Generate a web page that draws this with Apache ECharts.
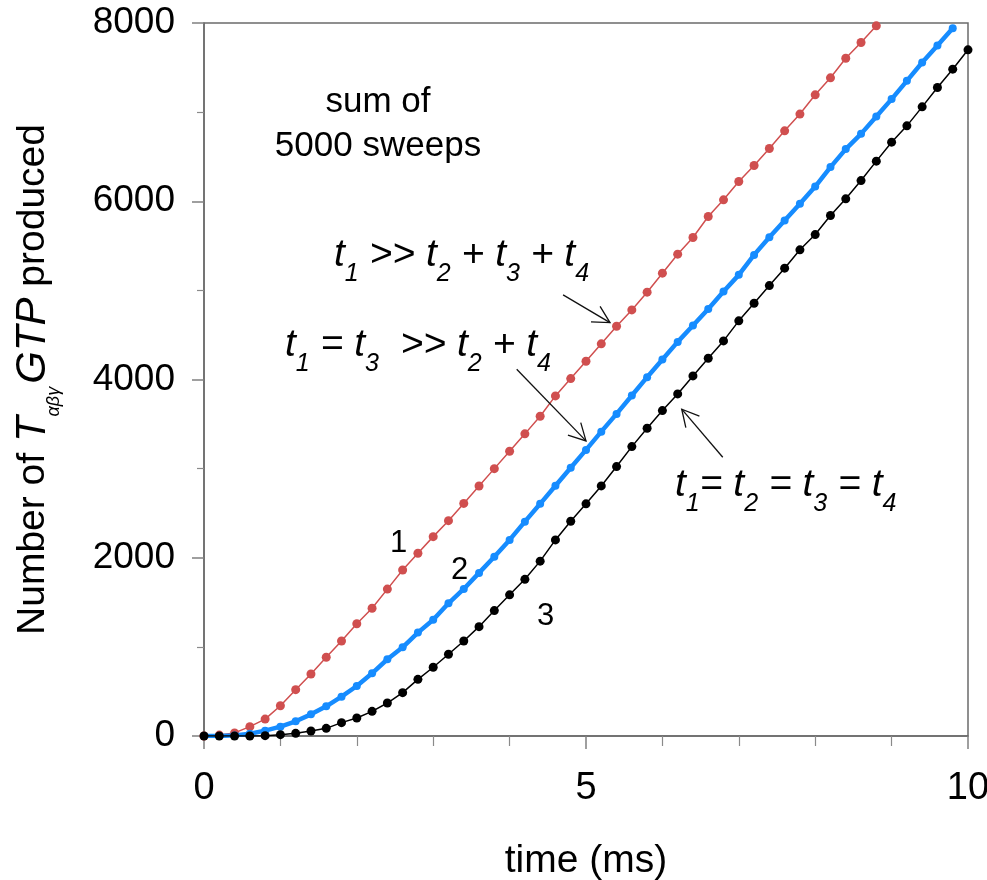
<!DOCTYPE html>
<html>
<head>
<meta charset="utf-8">
<script src="https://cdn.jsdelivr.net/npm/echarts@6/dist/echarts.min.js"></script>
<style>
  html, body { margin: 0; padding: 0; background: #ffffff; }
  #chart { width: 987px; height: 880px; }
</style>
</head>
<body>
<div id="chart"></div>
<script>
// Sampling times (ms)
const timeMs = [
  0, 0.2, 0.4, 0.6, 0.8, 1.0, 1.2, 1.4, 1.6, 1.8,
  2.0, 2.2, 2.4, 2.6, 2.8, 3.0, 3.2, 3.4, 3.6, 3.8,
  4.0, 4.2, 4.4, 4.6, 4.8, 5.0, 5.2, 5.4, 5.6, 5.8,
  6.0, 6.2, 6.4, 6.6, 6.8, 7.0, 7.2, 7.4, 7.6, 7.8,
  8.0, 8.2, 8.4, 8.6, 8.8, 9.0, 9.2, 9.4, 9.6, 9.8, 10.0
];

// Curve 1: t1 >> t2 + t3 + t4
const curve1 = [
  0, 10, 35, 105, 190, 340, 520, 696, 883, 1066,
  1260, 1433, 1648, 1862, 2050, 2237, 2416, 2610, 2805, 3000,
  3195, 3390, 3588, 3816, 4010, 4205, 4400, 4598, 4781, 4980,
  5193, 5406, 5593, 5829, 6016, 6221, 6401, 6592, 6790, 6978,
  7194, 7385, 7605, 7781, 7968
];

// Curve 2: t1 = t3 >> t2 + t4
const curve2 = [
  0, 0, 7, 26, 60, 105, 165, 243, 333, 441,
  561, 703, 861, 995, 1160, 1305, 1489, 1650, 1830, 2012,
  2200, 2405, 2605, 2808, 3010, 3210, 3415, 3614, 3820, 4026,
  4225, 4422, 4605, 4792, 4987, 5174, 5398, 5597, 5783, 5971,
  6165, 6383, 6585, 6756, 6951, 7146, 7351, 7557, 7748, 7942
];

// Curve 3: t1 = t2 = t3 = t4
const curve3 = [
  0, 0, 0, 0, 4, 15, 30, 56, 86, 150,
  202, 277, 370, 486, 636, 771, 917, 1066, 1227, 1407,
  1584, 1758, 1962, 2200, 2410, 2605, 2806, 3023, 3247, 3453,
  3651, 3838, 4040, 4239, 4433, 4658, 4856, 5054, 5249, 5455,
  5626, 5840, 6027, 6232, 6450, 6663, 6846, 7059, 7276, 7482, 7699
];

const xTickValues = [0, 5, 10];
const yTickValues = [0, 2000, 4000, 6000, 8000];

const FONT = 'Liberation Sans, Arial, Helvetica, sans-serif';
const RED = '#d04f4f';
const BLUE = '#168cff';
const BLACK = '#000000';
const FRAME = '#6b6b6b';

function pairs(values) {
  return values.map((v, i) => [timeMs[i], v]);
}

const chart = echarts.init(document.getElementById('chart'), null, { renderer: 'canvas' });

chart.setOption({
  animation: false,
  backgroundColor: '#ffffff',
  grid: {
    left: 204, right: 19, top: 23, bottom: 144,
    containLabel: false, outerBoundsMode: 'none',
    show: true, borderColor: FRAME, borderWidth: 1.5, backgroundColor: 'transparent'
  },
  xAxis: {
    type: 'value', min: 0, max: 10, interval: 5,
    name: 'time (ms)', nameLocation: 'middle', nameGap: 106,
    nameTextStyle: { fontFamily: FONT, fontSize: 39, color: '#000' },
    axisLine: { show: true, lineStyle: { color: FRAME, width: 1.5 } },
    axisTick: { show: true, inside: false, length: 13, lineStyle: { color: '#808080', width: 1.5 } },
    minorTick: { show: true, splitNumber: 5, length: 10, lineStyle: { color: '#8a8a8a', width: 1.2 } },
    splitLine: { show: false },
    axisLabel: {
      fontFamily: FONT, fontSize: 38, color: '#000', margin: 34,
      formatter: v => (xTickValues.indexOf(v) >= 0 ? String(v) : '')
    }
  },
  yAxis: {
    type: 'value', min: 0, max: 8000, interval: 2000,
    name: '{n|Number of }{i|T}{sub|αβγ}{i|GTP}{n| produced}',
    nameLocation: 'middle', nameRotate: 90, nameGap: 148,
    nameTextStyle: {
      fontFamily: FONT, fontSize: 39, color: '#000',
      rich: {
        n: { fontFamily: FONT, fontSize: 39, color: '#000', lineHeight: 46 },
        i: { fontFamily: FONT, fontSize: 42, fontStyle: 'italic', color: '#000', lineHeight: 46 },
        sub: { fontFamily: FONT, fontSize: 18, fontStyle: 'italic', color: '#000', lineHeight: 20, padding: [42, 3, 0, 0] }
      }
    },
    axisLine: { show: true, lineStyle: { color: FRAME, width: 1.5 } },
    axisTick: { show: true, inside: false, length: 12, lineStyle: { color: '#808080', width: 1.5 } },
    minorTick: { show: true, splitNumber: 2, length: 7, lineStyle: { color: '#8a8a8a', width: 1.2 } },
    splitLine: { show: false },
    axisLabel: {
      fontFamily: FONT, fontSize: 37, color: '#000', margin: 29,
      formatter: v => (yTickValues.indexOf(v) >= 0 ? String(v) : '')
    }
  },
  series: [
    {
      name: 'curve 1', type: 'line', data: pairs(curve1), clip: true,
      symbol: 'circle', symbolSize: 9, showSymbol: true,
      itemStyle: { color: RED }, lineStyle: { color: RED, width: 1.5 }, z: 3
    },
    {
      name: 'curve 2', type: 'line', data: pairs(curve2), clip: true,
      symbol: 'circle', symbolSize: 8, showSymbol: true,
      itemStyle: { color: BLUE }, lineStyle: { color: BLUE, width: 4.5 }, z: 4
    },
    {
      name: 'curve 3', type: 'line', data: pairs(curve3), clip: true,
      symbol: 'circle', symbolSize: 9, showSymbol: true,
      itemStyle: { color: BLACK }, lineStyle: { color: BLACK, width: 1.5 }, z: 5
    }
  ]
});

// Annotation arrows, given in data coordinates (time, count): tail -> tip
const arrowSpecs = [
  { tail: [4.70, 4949], tip: [5.314, 4638] },
  { tail: [4.093, 4115], tip: [5.00, 3311] },
  { tail: [6.79, 3128], tip: [6.253, 3667] }
];

// Curve numbers placed in data coordinates
const curveLabels = [
  { text: '1', at: [2.546, 2155] },
  { text: '2', at: [3.347, 1852] },
  { text: '3', at: [4.47, 1336] }
];

const toPx = p => chart.convertToPixel({ gridIndex: 0 }, p);

const mainTxt = { fontFamily: FONT, fontSize: 39, fontStyle: 'italic', fill: '#000', lineHeight: 46 };
const subTxt = { fontFamily: FONT, fontSize: 25, fontStyle: 'italic', fill: '#000', lineHeight: 26, padding: [39, 0, 0, 0] };

function richText(x, y, text) {
  return {
    type: 'text', x: x, y: y, z: 20,
    style: {
      text: text, align: 'left', verticalAlign: 'middle',
      font: 'italic 39px ' + FONT, fill: '#000',
      rich: { t: mainTxt, s: subTxt }
    }
  };
}

const elements = [];

arrowSpecs.forEach(a => {
  const p0 = toPx(a.tail);
  const p1 = toPx(a.tip);
  const ang = Math.atan2(p0[1] - p1[1], p0[0] - p1[0]);
  const len = 19, spread = 28 * Math.PI / 180;
  const b1 = [p1[0] + len * Math.cos(ang + spread), p1[1] + len * Math.sin(ang + spread)];
  const b2 = [p1[0] + len * Math.cos(ang - spread), p1[1] + len * Math.sin(ang - spread)];
  elements.push({
    type: 'polyline', z: 20, shape: { points: [p0, p1] },
    style: { stroke: '#111', lineWidth: 1.3, fill: null }
  });
  elements.push({
    type: 'polyline', z: 20, shape: { points: [b1, p1, b2] },
    style: { stroke: '#111', lineWidth: 1.3, fill: null }
  });
});

curveLabels.forEach(c => {
  const p = toPx(c.at);
  elements.push({
    type: 'text', x: p[0], y: p[1], z: 20,
    style: { text: c.text, font: '31px ' + FONT, fill: '#000', align: 'center', verticalAlign: 'middle' }
  });
});

elements.push({
  type: 'text', x: 378, y: 102, z: 20,
  style: { text: 'sum of', font: '35px ' + FONT, fill: '#000', align: 'center', verticalAlign: 'middle' }
});
elements.push({
  type: 'text', x: 378, y: 146, z: 20,
  style: { text: '5000 sweeps', font: '35px ' + FONT, fill: '#000', align: 'center', verticalAlign: 'middle' }
});

elements.push(richText(334, 255, '{t|t}{s|1}{t| >> t}{s|2}{t| + t}{s|3}{t| + t}{s|4}'));
elements.push(richText(285, 345, '{t|t}{s|1}{t| = t}{s|3}{t|  >> t}{s|2}{t| + t}{s|4}'));
elements.push(richText(675, 485, '{t|t}{s|1}{t|= t}{s|2}{t| = t}{s|3}{t| = t}{s|4}'));

chart.setOption({ graphic: { elements: elements } });
</script>
</body>
</html>
